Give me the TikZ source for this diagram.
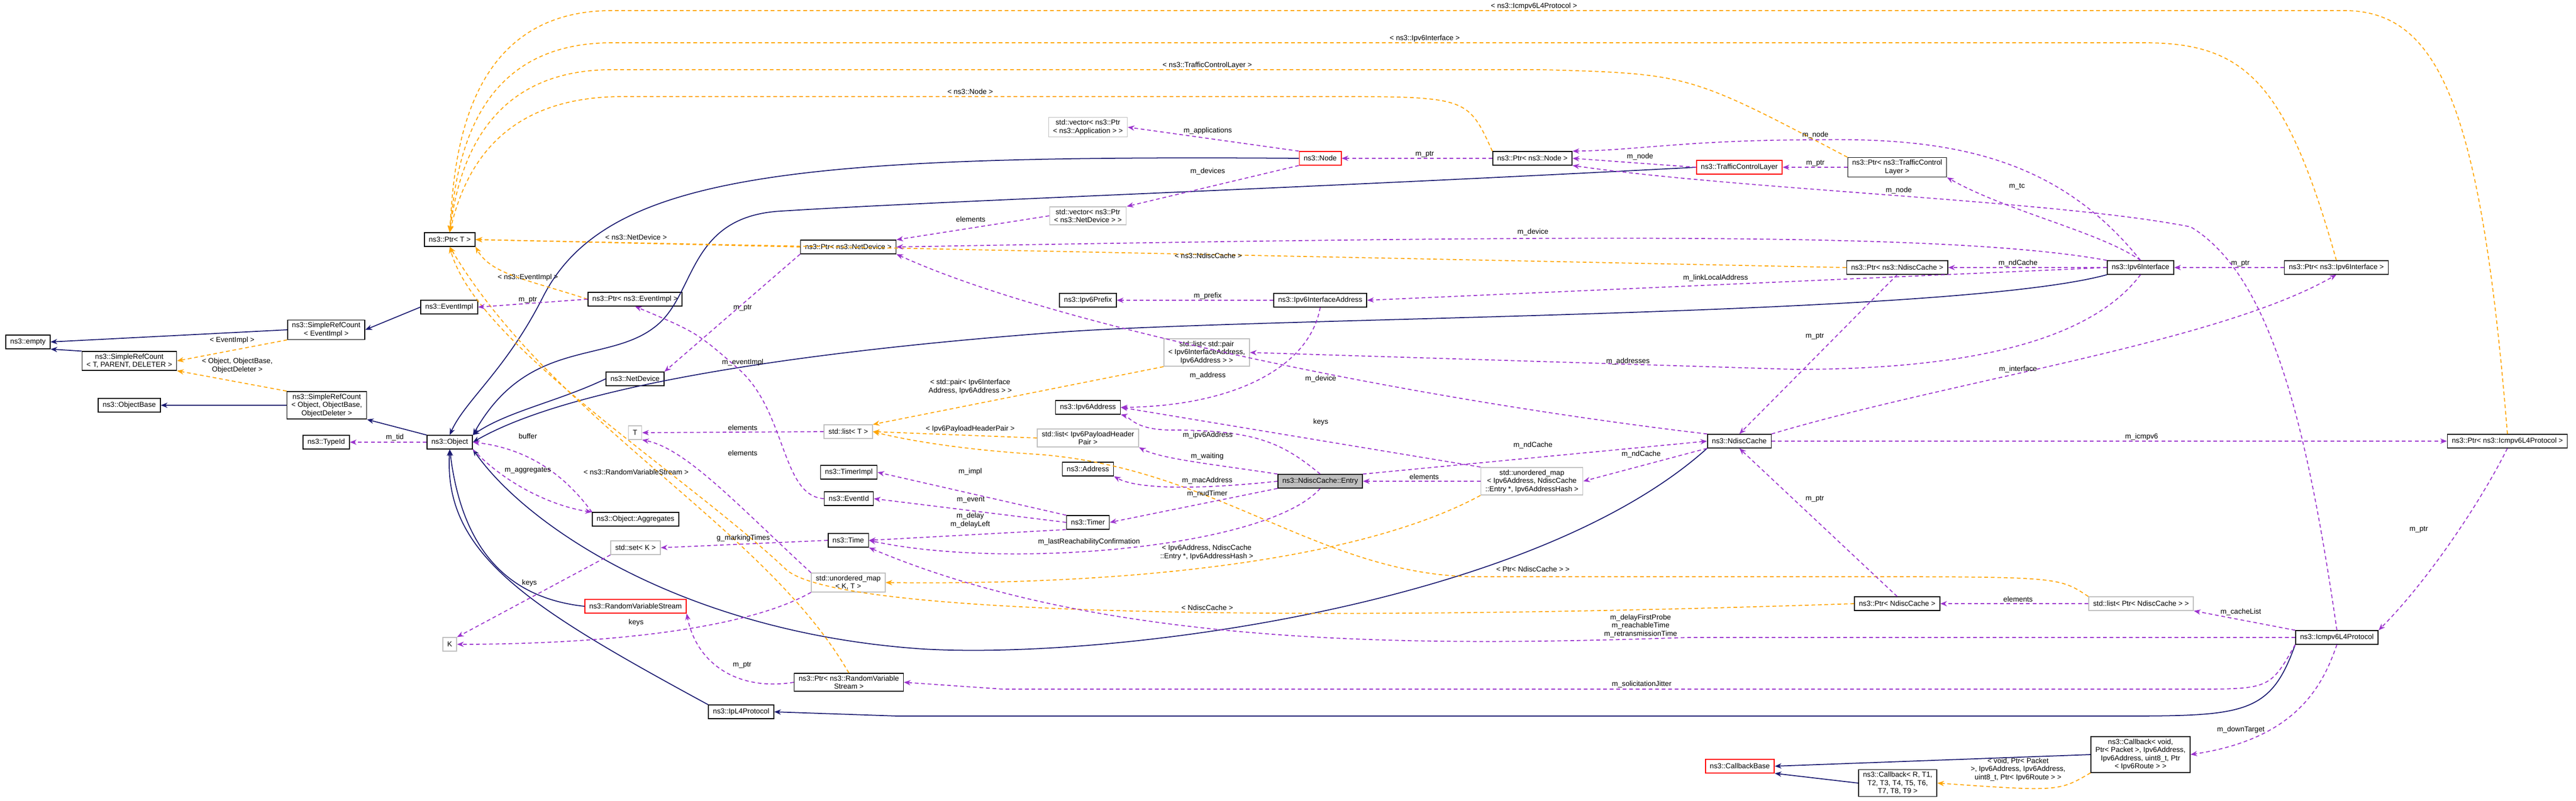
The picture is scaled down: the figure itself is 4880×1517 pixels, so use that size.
\documentclass[tikz,border=0pt]{standalone}
\usepackage{fontspec}
\setmainfont{Liberation Sans}
\usetikzlibrary{arrows.meta}
\definecolor{inhc}{RGB}{25,25,112}
\definecolor{usec}{RGB}{154,50,205}
\definecolor{tmpc}{RGB}{255,165,0}
\definecolor{greyc}{RGB}{191,191,191}
\tikzset{
 x=0.01cm,y=-0.01cm,
 box/.style={draw=black,line width=0.45pt,fill=white,font=\fontsize{3.9}{4.4}\selectfont,align=center,inner xsep=2.4pt,inner ysep=1.2pt,minimum height=7.3pt},
 gbox/.style={box,draw=greyc},
 rbox/.style={box,draw=red},
 ebox/.style={box,fill=greyc},
 lab/.style={font=\fontsize{3.9}{4.4}\selectfont,align=center,inner sep=0.5pt},
 inh/.style={draw=inhc,line width=0.5pt,-{Stealth[length=3.6pt,width=2.8pt]}},
 use/.style={draw=usec,line width=0.5pt,dash pattern=on 2pt off 1.5pt,-{Stealth[length=3.6pt,width=2.8pt]}},
 tmpl/.style={draw=tmpc,line width=0.5pt,dash pattern=on 2pt off 1.5pt,-{Stealth[length=3.6pt,width=2.8pt]}},
}
\begin{document}
\begin{tikzpicture}
\useasboundingbox (0,0) rectangle (4880,1517);
% nodes
\node[box] (empty) at (53,648) {ns3::empty};
\node[box] (srcTPD) at (245,684) {ns3::SimpleRefCount\\< T, PARENT, DELETER >};
\node[box] (srcEv) at (618,625) {ns3::SimpleRefCount\\< EventImpl >};
\node[box] (eventimpl) at (851,582) {ns3::EventImpl};
\node[box] (ptrT) at (852,454) {ns3::Ptr< T >};
\node[box] (objbase) at (245,768) {ns3::ObjectBase};
\node[box] (srcObj) at (619,768) {ns3::SimpleRefCount\\< Object, ObjectBase,\\ObjectDeleter >};
\node[box] (typeid) at (618,838) {ns3::TypeId};
\node[box] (object) at (852,838) {ns3::Object};
\node[box] (ptrEv) at (1203,567) {ns3::Ptr< ns3::EventImpl >};
\node[box] (netdev) at (1203,718) {ns3::NetDevice};
\node[gbox] (T) at (1203,820) {T};
\node[box] (aggr) at (1204,984) {ns3::Object::Aggregates};
\node[gbox] (setK) at (1204,1038) {std::set< K >};
\node[rbox] (rvs) at (1204,1149) {ns3::RandomVariableStream};
\node[gbox] (K) at (852,1221) {K};
\node[box] (ptrNet) at (1607,468) {ns3::Ptr< ns3::NetDevice >};
\node[gbox] (listT) at (1607,818) {std::list< T >};
\node[box] (timerimpl) at (1608,895) {ns3::TimerImpl};
\node[box] (eventid) at (1608,945) {ns3::EventId};
\node[box] (time) at (1607,1024) {ns3::Time};
\node[gbox] (umKT) at (1607,1104) {std::unordered\_map\\< K, T >};
\node[box] (ptrRvs) at (1608,1293) {ns3::Ptr< ns3::RandomVariable\\Stream >};
\node[box] (ipl4) at (1404,1349) {ns3::IpL4Protocol};
\node[gbox] (vecApp) at (2061,241) {std::vector< ns3::Ptr\\< ns3::Application > >};
\node[gbox] (vecNet) at (2061,409) {std::vector< ns3::Ptr\\< ns3::NetDevice > >};
\node[box] (prefix) at (2061,569) {ns3::Ipv6Prefix};
\node[box] (ipv6addr) at (2061,772) {ns3::Ipv6Address};
\node[gbox] (listPH) at (2061,830) {std::list< Ipv6PayloadHeader\\Pair >};
\node[box] (address) at (2061,889) {ns3::Address};
\node[box] (timer) at (2061,990) {ns3::Timer};
\node[gbox] (listPair) at (2286,668) {std::list< std::pair\\< Ipv6InterfaceAddress,\\Ipv6Address > >};
\node[rbox] (node) at (2501,300) {ns3::Node};
\node[box] (ifaddr) at (2501,569) {ns3::Ipv6InterfaceAddress};
\node[ebox] (entry) at (2501,912) {ns3::NdiscCache::Entry};
\node[box] (ptrNode) at (2903,300) {ns3::Ptr< ns3::Node >};
\node[gbox] (umIp) at (2902,912) {std::unordered\_map\\< Ipv6Address, NdiscCache\\::Entry *, Ipv6AddressHash >};
\node[rbox] (tcl) at (3295,317) {ns3::TrafficControlLayer};
\node[box] (ndisc) at (3295,836) {ns3::NdiscCache};
\node[rbox] (cbBase) at (3296,1452) {ns3::CallbackBase};
\node[box] (ptrTcl) at (3594,317) {ns3::Ptr< ns3::TrafficControl\\Layer >};
\node[box] (ptrNd) at (3594,507) {ns3::Ptr< ns3::NdiscCache >};
\node[box] (ptrNd2) at (3594,1144) {ns3::Ptr< NdiscCache >};
\node[box] (cbR) at (3595,1484) {ns3::Callback< R, T1,\\T2, T3, T4, T5, T6,\\T7, T8, T9 >};
\node[box] (iface) at (4055,507) {ns3::Ipv6Interface};
\node[gbox] (listPN) at (4056,1144) {std::list< Ptr< NdiscCache > >};
\node[box] (cbVoid) at (4055,1430) {ns3::Callback< void,\\ Ptr< Packet >, Ipv6Address,\\Ipv6Address, uint8\_t, Ptr\\< Ipv6Route > >};
\node[box] (ptrIf) at (4426,507) {ns3::Ptr< ns3::Ipv6Interface >};
\node[box] (icmp) at (4427,1208) {ns3::Icmpv6L4Protocol};
\node[box] (ptrIcmp) at (4750,836) {ns3::Ptr< ns3::Icmpv6L4Protocol >};

% inheritance
\draw[inh] (srcEv.west) -- (empty.east);
\draw[inh] (srcTPD.north west) -- (empty.south east);
\draw[inh] (eventimpl.west) -- (srcEv.east);
\draw[inh] (srcObj.west) -- (objbase.east);
\draw[inh] (object.north west) -- (srcObj.south east);
\draw[inh] (node.west) .. controls (1500,293) and (1150,330) .. (1030,560) .. controls (960,700) and (880,760) .. (object.north);
\draw[inh] (tcl.west) .. controls (2400,360) and (1800,380) .. (1480,400) .. controls (1300,410) and (1320,560) .. (1240,620) .. controls (1150,690) and (1000,640) .. (object.north east);
\draw[inh] (netdev.west) .. controls (1060,760) and (960,780) .. (object.north east);
\draw[inh] (iface.south west) .. controls (3700,600) and (2400,600) .. (2000,630) .. controls (1600,660) and (1100,720) .. (object.east);
\draw[inh] (ndisc.south west) .. controls (2900,1150) and (2100,1250) .. (1750,1230) .. controls (1300,1200) and (1000,1000) .. (object.south east);
\draw[inh] (rvs.west) .. controls (930,1130) and (870,1000) .. (object.south);
\draw[inh] (ipl4.north west) .. controls (1000,1150) and (840,1050) .. (object.south);
\draw[inh] (icmp.south west) .. controls (4300,1357) and (4250,1357) .. (4000,1357) -- (1700,1357) -- (ipl4.east);
\draw[inh] (cbVoid.west) -- (cbBase.east);
\draw[inh] (cbR.west) -- (cbBase.south east);

% templates
\draw[tmpl] (srcEv.south west) -- node[lab,above=3pt,pos=0.5] (l1) {< EventImpl >} (srcTPD.east);
\draw[tmpl] (srcObj.north west) -- node[lab,above=4pt,pos=0.45] (l2) {< Object, ObjectBase,\\ObjectDeleter >} (srcTPD.south east);
\draw[tmpl] (ptrEv.west) .. controls (1000,530) and (930,520) .. (ptrT.south east);
\node[lab] (l3) at (1000,526) {< ns3::EventImpl >};
\draw[tmpl] (ptrNet.west) -- (ptrT.east);
\node[lab] (l4) at (1205,450) {< ns3::NetDevice >};
\draw[tmpl] (ptrNd.west) -- (ptrT.east);
\node[lab] (l5) at (2289,485) {< ns3::NdiscCache >};
\draw[tmpl] (ptrNode.north west) .. controls (2780,183) .. (2510,183) -- (1180,183) .. controls (950,183) and (880,320) .. (ptrT.north);
\node[lab] (l6) at (1838,174) {< ns3::Node >};
\draw[tmpl] (ptrTcl.north west) .. controls (3200,140) .. (2920,132) -- (1160,132) .. controls (930,132) and (870,300) .. (ptrT.north);
\node[lab] (l7) at (2287,124) {< ns3::TrafficControlLayer >};
\draw[tmpl] (ptrIf.north) .. controls (4330,150) and (4250,81) .. (4060,81) -- (1160,81) .. controls (900,81) and (865,300) .. (ptrT.north);
\node[lab] (l8) at (2699,73) {< ns3::Ipv6Interface >};
\draw[tmpl] (ptrIcmp.north) .. controls (4700,200) and (4620,20) .. (4440,20) -- (1160,20) .. controls (880,20) and (860,300) .. (ptrT.north);
\node[lab] (l9) at (2906,12) {< ns3::Icmpv6L4Protocol >};
\draw[tmpl] (ptrRvs.north) .. controls (1450,1000) and (1050,800) .. (ptrT.south);
\node[lab] (l10) at (1205,895) {< ns3::RandomVariableStream >};
\draw[tmpl] (ptrNd2.west) .. controls (2600,1175) and (1600,1175) .. (1490,1080) .. controls (1300,900) and (900,650) .. (ptrT.south);
\node[lab] (l11) at (2287,1152) {< NdiscCache >};
\draw[tmpl] (listPair.south west) -- (listT.north east);
\node[lab] (l12) at (1838,733) {< std::pair< Ipv6Interface\\Address, Ipv6Address > >};
\draw[tmpl] (listPH.west) -- (listT.east);
\node[lab] (l13) at (1838,813) {< Ipv6PayloadHeaderPair >};
\draw[tmpl] (listPN.north west) .. controls (3900,1093) .. (3500,1093) -- (2800,1093) .. controls (2500,1093) and (2300,880) .. (1950,860) .. controls (1800,850) and (1700,830) .. (listT.east);
\node[lab] (l14) at (2904,1079) {< Ptr< NdiscCache > >};
\draw[tmpl] (umIp.south west) .. controls (2600,1050) and (2200,1110) .. (umKT.east);
\node[lab] (l15) at (2286,1047) {< Ipv6Address, NdiscCache\\::Entry *, Ipv6AddressHash >};
\draw[tmpl] (cbVoid.south west) .. controls (3900,1500) .. (cbR.east);
\node[lab] (l16) at (3823,1458) {< void, Ptr< Packet\\>, Ipv6Address, Ipv6Address,\\uint8\_t, Ptr< Ipv6Route > >};

% usage
\draw[use] (object.west) -- (typeid.east);
\node[lab] (u1) at (748,829) {m\_tid};
\draw[use] (ptrEv.west) -- (eventimpl.east);
\node[lab] (u2) at (1000,568) {m\_ptr};
\draw[use] (aggr.north west) .. controls (1070,900) and (1000,850) .. (object.east);
\node[lab] (u3) at (1000,827) {buffer};
\draw[use] (object.south east) .. controls (960,920) and (1050,960) .. (aggr.north west);
\node[lab] (u4) at (1000,891) {m\_aggregates};
\draw[use] (eventid.west) .. controls (1480,940) and (1490,780) .. (1400,700) .. controls (1320,630) .. (ptrEv.south);
\node[lab] (u5) at (1407,687) {m\_eventImpl};
\draw[use] (ptrNet.south west) -- (netdev.north east);
\node[lab] (u6) at (1407,583) {m\_ptr};
\draw[use] (vecNet.west) -- (ptrNet.north east);
\node[lab] (u7) at (1839,416) {elements};
\draw[use] (iface.north west) .. controls (3700,440) and (3000,445) .. (ptrNet.east);
\node[lab] (u8) at (2904,440) {m\_device};
\draw[use] (ndisc.north west) .. controls (2700,760) and (2000,620) .. (ptrNet.south east);
\node[lab] (u9) at (2502,718) {m\_device};
\draw[use] (listT.west) -- (T.east);
\node[lab] (u10) at (1407,811) {elements};
\draw[use] (umKT.north west) .. controls (1400,960) and (1300,850) .. (T.south east);
\node[lab] (u11) at (1407,859) {elements};
\draw[use] (timer.north west) -- (timerimpl.east);
\node[lab] (u12) at (1838,894) {m\_impl};
\draw[use] (timer.west) -- (eventid.east);
\node[lab] (u13) at (1839,947) {m\_event};
\draw[use] (timer.south west) -- (time.east);
\node[lab] (u14) at (1838,986) {m\_delay\\m\_delayLeft};
\draw[use] (time.west) -- (setK.east);
\node[lab] (u15) at (1408,1020) {g\_markingTimes};
\draw[use] (setK.south west) -- (K.north east);
\node[lab] (u16) at (1003,1105) {keys};
\draw[use] (umKT.south west) .. controls (1400,1200) and (1100,1221) .. (K.east);
\node[lab] (u17) at (1205,1180) {keys};
\draw[use] (ptrRvs.west) .. controls (1400,1310) and (1320,1260) .. (rvs.south east);
\node[lab] (u18) at (1406,1260) {m\_ptr};
\draw[use] (icmp.south west) .. controls (4300,1306) .. (4150,1306) -- (1900,1306) -- (ptrRvs.east);
\node[lab] (u19) at (3110,1297) {m\_solicitationJitter};
\draw[use] (entry.south) .. controls (2400,1040) and (1900,1080) .. (time.east);
\node[lab] (u20) at (2063,1027) {m\_lastReachabilityConfirmation};
\draw[use] (icmp.west) -- (3200,1208) .. controls (2700,1225) and (2100,1230) .. (time.south east);
\node[lab] (u21) at (3108,1186) {m\_delayFirstProbe\\m\_reachableTime\\m\_retransmissionTime};
\draw[use] (entry.south west) -- (timer.east);
\node[lab] (u22) at (2287,936) {m\_nudTimer};
\draw[use] (entry.west) .. controls (2250,930) and (2150,925) .. (address.south east);
\node[lab] (u23) at (2287,911) {m\_macAddress};
\draw[use] (entry.north west) .. controls (2300,880) and (2200,870) .. (listPH.south east);
\node[lab] (u24) at (2287,865) {m\_waiting};
\draw[use] (entry.north) .. controls (2430,840) and (2380,815) .. (2220,815) .. controls (2150,815) and (2140,790) .. (ipv6addr.south east);
\node[lab] (u25) at (2288,825) {m\_ipv6Address};
\draw[use] (umIp.north west) -- (ipv6addr.east);
\node[lab] (u26) at (2502,800) {keys};
\draw[use] (ifaddr.south) .. controls (2480,700) and (2330,770) .. (ipv6addr.east);
\node[lab] (u27) at (2288,712) {m\_address};
\draw[use] (ifaddr.west) -- (prefix.east);
\node[lab] (u28) at (2288,561) {m\_prefix};
\draw[use] (entry.north east) -- (ndisc.west);
\node[lab] (u29) at (2904,844) {m\_ndCache};
\draw[use] (ndisc.south west) -- (umIp.east);
\node[lab] (u30) at (3109,861) {m\_ndCache};
\draw[use] (umIp.west) -- (entry.east);
\node[lab] (u31) at (2698,904) {elements};
\draw[use] (iface.west) -- (ifaddr.east);
\node[lab] (u32) at (3250,527) {m\_linkLocalAddress};
\draw[use] (iface.south) .. controls (3980,620) and (3800,700) .. (3400,700) -- (listPair.east);
\node[lab] (u33) at (3084,685) {m\_addresses};
\draw[use] (iface.west) -- (ptrNd.east);
\node[lab] (u34) at (3823,499) {m\_ndCache};
\draw[use] (ptrNd.south) -- (ndisc.north);
\node[lab] (u35) at (3438,637) {m\_ptr};
\draw[use] (ptrIf.west) -- (iface.east);
\node[lab] (u36) at (4244,499) {m\_ptr};
\draw[use] (ndisc.north east) .. controls (3700,720) and (4200,650) .. (ptrIf.south);
\node[lab] (u37) at (3823,700) {m\_interface};
\draw[use] (ndisc.east) -- (ptrIcmp.west);
\node[lab] (u38) at (4057,828) {m\_icmpv6};
\draw[use] (ptrIcmp.south) .. controls (4700,950) and (4600,1100) .. (icmp.north east);
\node[lab] (u39) at (4582,1003) {m\_ptr};
\draw[use] (ptrNd2.north) -- (ndisc.south);
\node[lab] (u40) at (3438,945) {m\_ptr};
\draw[use] (listPN.west) -- (ptrNd2.east);
\node[lab] (u41) at (3823,1136) {elements};
\draw[use] (icmp.north west) -- (listPN.south east);
\node[lab] (u42) at (4245,1160) {m\_cacheList};
\draw[use] (icmp.south) .. controls (4400,1300) and (4350,1400) .. (cbVoid.east);
\node[lab] (u43) at (4245,1383) {m\_downTarget};
\draw[use] (node.north west) -- (vecApp.east);
\node[lab] (u44) at (2288,248) {m\_applications};
\draw[use] (node.south west) -- (vecNet.north east);
\node[lab] (u45) at (2288,325) {m\_devices};
\draw[use] (ptrNode.west) -- (node.east);
\node[lab] (u46) at (2699,292) {m\_ptr};
\draw[use] (tcl.west) -- (ptrNode.east);
\node[lab] (u47) at (3107,297) {m\_node};
\draw[use] (iface.north) .. controls (3900,300) and (3700,260) .. (3440,265) .. controls (3200,265) and (3100,285) .. (ptrNode.north east);
\node[lab] (u48) at (3439,256) {m\_node};
\draw[use] (icmp.north) .. controls (4370,800) and (4300,520) .. (4150,430) .. controls (3900,380) and (3300,360) .. (ptrNode.south east);
\node[lab] (u49) at (3597,361) {m\_node};
\draw[use] (ptrTcl.west) -- (tcl.east);
\node[lab] (u50) at (3439,309) {m\_ptr};
\draw[use] (iface.north) .. controls (3980,440) and (3800,400) .. (ptrTcl.south east);
\node[lab] (u51) at (3821,353) {m\_tc};
\end{tikzpicture}
\end{document}
